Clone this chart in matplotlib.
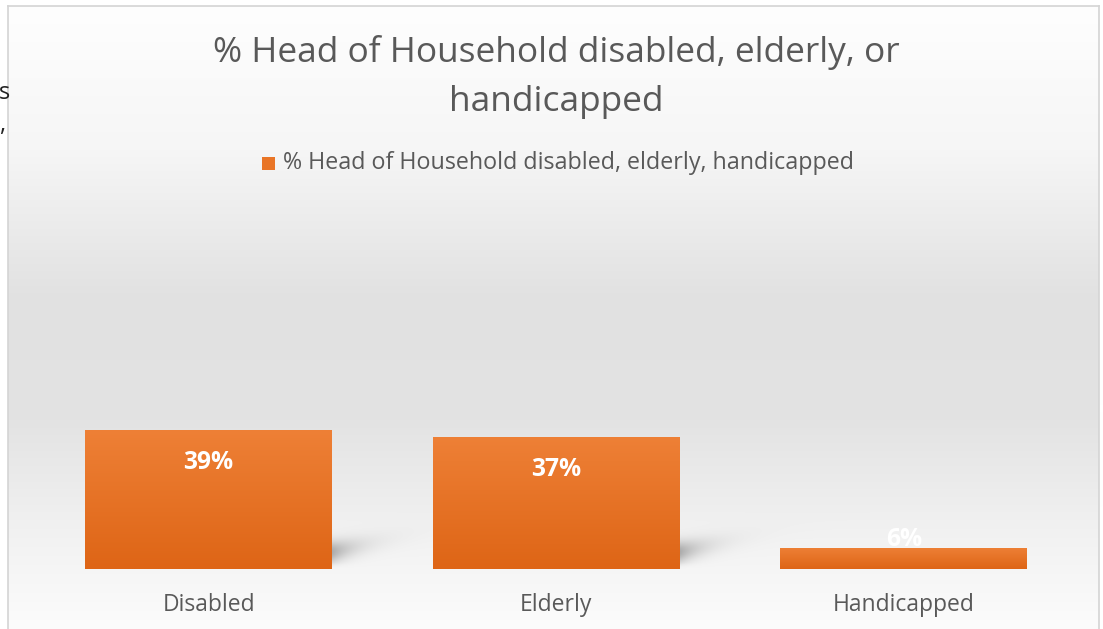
import numpy as np
import matplotlib
matplotlib.use("Agg")
import matplotlib.pyplot as plt
from matplotlib.patches import Rectangle

categories = ["Disabled", "Elderly", "Handicapped"]
values = [39, 37, 6]
value_labels = ["39%", "37%", "6%"]
series_name = "% Head of Household disabled, elderly, handicapped"
title = "% Head of Household disabled, elderly, or\nhandicapped"

W, H = 1103, 629
DPI = 100
FONT = ["Open Sans", "DejaVu Sans"]
TXT = "#595959"

fig = plt.figure(figsize=(W / DPI, H / DPI), dpi=DPI)
fig.patch.set_facecolor("white")

def fx(px):
    return px / W

def fy(py):
    return 1 - py / H

# Background axes covering the whole figure (pixel grid)
bg = fig.add_axes([0, 0, 1, 1], zorder=0)
bg.set_axis_off()

# Plot axes
ax_left, ax_right = 34.75, 1077.75
ax_top, ax_bot = 190, 569
ax = fig.add_axes([fx(ax_left), fy(ax_bot), fx(ax_right) - fx(ax_left), fy(ax_top) - fy(ax_bot)],
                  zorder=1)
ax.set_facecolor("none")
ax.patch.set_alpha(0)
for s in ax.spines.values():
    s.set_visible(False)
x = np.arange(len(categories))
ax.set_xlim(-0.5, len(categories) - 0.5)
ymax = 106.0
ax.set_ylim(0, ymax)
ax.set_yticks([])
ax.set_xticks(x)
ax.set_xticklabels(categories, fontsize=14, color=TXT, family=FONT)
ax.tick_params(axis="x", length=0, pad=17)

px_per_y = (ax_bot - ax_top) / ymax
bw = 0.71

bars = ax.bar(x, values, width=bw, color="#E97526", zorder=2)
grad = np.linspace(0, 1, 100)[:, None]
top_c = np.array([0xEE, 0x80, 0x36]) / 255
bot_c = np.array([0xDE, 0x65, 0x16]) / 255
gimg = top_c[None, None, :] * (1 - grad[:, :, None]) + bot_c[None, None, :] * grad[:, :, None]
gimg = np.repeat(gimg, 2, axis=1)
for b in bars:
    im = ax.imshow(gimg, extent=[b.get_x(), b.get_x() + b.get_width(), 0, b.get_height()],
                   aspect="auto", zorder=3, interpolation="bilinear")
    im.set_clip_path(b)

vlabels = []
for xi, v, lab in zip(x, values, value_labels):
    off = -33 if v * px_per_y > 60 else 8
    t = ax.annotate(lab, (xi, v), xytext=(0, off), textcoords="offset pixels",
                    ha="center", va="center", color="white", fontsize=15, fontweight="bold",
                    family=FONT, zorder=5)
    vlabels.append(t)

ax.set_xlim(-0.5, len(categories) - 0.5)
ax.set_ylim(0, ymax)

# Build background pixel image: gradient inside the chart frame + soft bar shadows
PY, PX = np.mgrid[0:H, 0:W] + 0.5
cp_y = [6, 150, 300, 420, 520, 629]
cp_v = [254, 246, 225, 227, 240, 252]
shade = np.interp(PY, cp_y, cp_v) / 255.0
inside = (PX >= 8) & (PX <= 1099) & (PY >= 6)
shade = np.where(inside, shade, 1.0)
for b, v in zip(bars, values):
    xr_px, yb_disp = ax.transData.transform((b.get_x() + b.get_width(), 0))
    yb_px = H - yb_disp
    if v * px_per_y < 60:
        continue
    dx = PX - xr_px
    up = yb_px - PY
    yc = 17 + 0.22 * dx
    a = 0.30 * np.exp(-((up - yc) / 11.0) ** 2) * np.exp(-np.clip(dx, 0, None) / 24.0)
    a *= np.clip(up / 6.0, 0, 1) * (dx >= 0)
    shade = shade * (1 - a)
rgb = np.dstack([shade, shade, shade])
bg.imshow(rgb, extent=[0, W, H, 0], aspect="auto", interpolation="nearest")
bg.set_xlim(0, W)
bg.set_ylim(H, 0)

# border of chart area
fig.add_artist(plt.Line2D([fx(8), fx(8)], [0, fy(6)], color="#d4d4d4", lw=1.2, zorder=2))
fig.add_artist(plt.Line2D([fx(1099), fx(1099)], [0, fy(6)], color="#d4d4d4", lw=1.2, zorder=2))
fig.add_artist(plt.Line2D([fx(8), fx(1099)], [fy(6), fy(6)], color="#d4d4d4", lw=1.2, zorder=2))

# stray text at left edge
fig.text(fx(-1), fy(93), "s", ha="left", va="center", fontsize=17, color="#222222", family=FONT)
fig.text(fx(-1), fy(125), ",", ha="left", va="center", fontsize=17, color="#222222", family=FONT)

# Title
t1 = fig.text(fx(556), fy(53), title.split("\n")[0], ha="center", va="center",
              fontsize=22, color=TXT, family=FONT)
t2 = fig.text(fx(556), fy(102), title.split("\n")[1], ha="center", va="center",
              fontsize=22, color=TXT, family=FONT)

# Legend
fig.add_artist(Rectangle((fx(262), fy(170)), fx(275) - fx(262), fy(157) - fy(170),
                         transform=fig.transFigure, facecolor="#E97526", edgecolor="none", zorder=2))
lt = fig.text(fx(283), fy(163), series_name, ha="left", va="center", fontsize=12.5,
              color=TXT, family=FONT)

# fit text widths
fig.canvas.draw()
r = fig.canvas.get_renderer()
def fit(t, target):
    w = t.get_window_extent(r).width
    return t.get_fontsize() * target / w
fs = fit(t1, 687)
t1.set_fontsize(fs)
t2.set_fontsize(fs)
lt.set_fontsize(fit(lt, 575))
fs_v = fit(vlabels[0], 50)
for t in vlabels:
    t.set_fontsize(fs_v)
tl = ax.get_xticklabels()
fs_t = fit(tl[2], 143)
for t in tl:
    t.set_fontsize(fs_t)

fig.savefig("out.png", dpi=DPI)
